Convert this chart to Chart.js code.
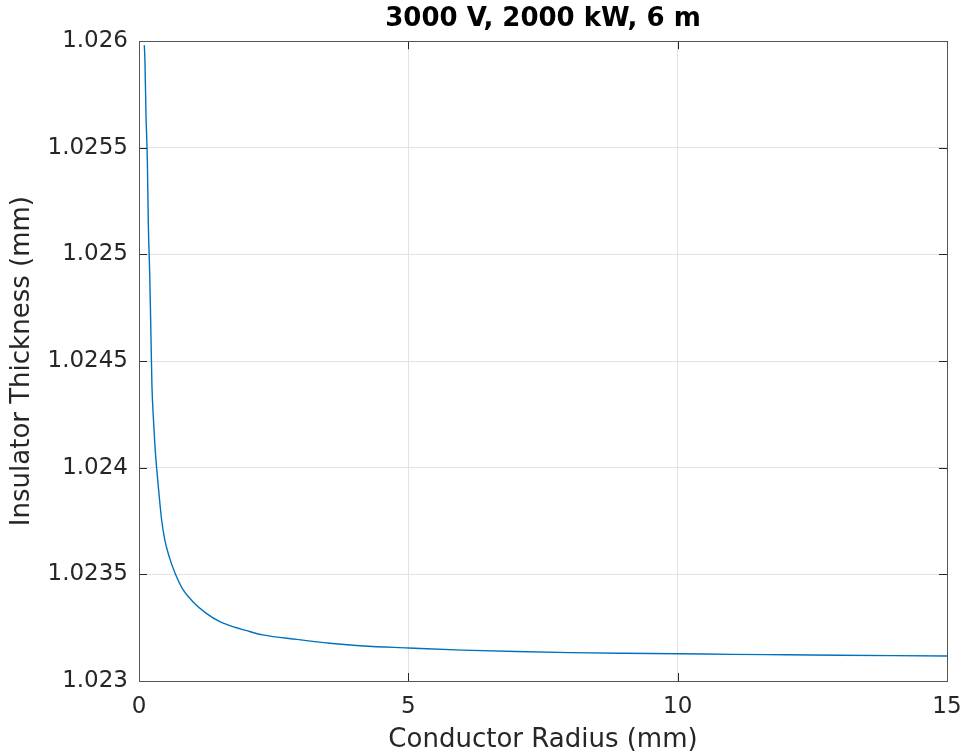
<!DOCTYPE html>
<html>
<head>
<meta charset="utf-8">
<script src="https://cdn.jsdelivr.net/npm/chart.js@4"></script>
<style>
html,body{margin:0;padding:0;background:#fff;}
#wrap{width:965px;height:751px;}
</style>
</head>
<body>
<div id="wrap"><canvas id="c" width="965" height="751"></canvas></div>
<script>
// ---- data ----
const radius = [0.099, 0.11, 0.13, 0.155, 0.173, 0.20, 0.22, 0.24, 0.27, 0.295, 0.327, 0.37, 0.42, 0.48, 0.56, 0.67, 0.82, 1.0, 1.25, 1.5, 1.69, 2.0, 2.30, 2.93, 3.54, 4.16, 5.0, 6.0, 7.0, 8.0, 9.0, 10.0, 11.0, 12.0, 13.0, 14.0, 15.0];
const thickness = [1.025981, 1.025911, 1.025653, 1.025442, 1.025147, 1.024895, 1.024645, 1.024387, 1.024218, 1.024106, 1.024000, 1.023880, 1.023755, 1.023661, 1.023583, 1.023505, 1.023427, 1.023372, 1.023317, 1.023278, 1.023260, 1.023236, 1.023216, 1.023195, 1.023177, 1.023164, 1.023155, 1.023145, 1.023138, 1.023133, 1.023130, 1.023128, 1.023125, 1.023123, 1.023121, 1.023119, 1.023117];
const xTicks = [0, 5, 10, 15];
const xTickLabels = ['0', '5', '10', '15'];
const yTicks = [1.023, 1.0235, 1.024, 1.0245, 1.025, 1.0255, 1.026];
const yTickLabels = ['1.023', '1.0235', '1.024', '1.0245', '1.025', '1.0255', '1.026'];
const titleText = '3000 V, 2000 kW, 6 m';
const xTitle = 'Conductor Radius (mm)';
const yTitle = 'Insulator Thickness (mm)';

const FONT = "'DejaVu Sans', sans-serif";
const TXT = '#262626';

const framePlugin = {
  id: 'frame',
  afterDatasetsDraw(chart) {
    const {ctx, chartArea: a, scales: {x, y}} = chart;
    ctx.save();
    ctx.strokeStyle = '#262626';
    ctx.lineWidth = 1;
    const L = 8;
    ctx.beginPath();
    xTicks.forEach(v => {
      const px = Math.round(x.getPixelForValue(v)) + 0.5;
      ctx.moveTo(px, a.bottom); ctx.lineTo(px, a.bottom - L);
      ctx.moveTo(px, a.top); ctx.lineTo(px, a.top + L);
    });
    yTicks.forEach(v => {
      const py = Math.round(y.getPixelForValue(v)) + 0.5;
      ctx.moveTo(a.left, py); ctx.lineTo(a.left + L, py);
      ctx.moveTo(a.right, py); ctx.lineTo(a.right - L, py);
    });
    ctx.stroke();
    ctx.strokeStyle = '#555';
    ctx.strokeRect(Math.round(a.left) + 0.5, Math.round(a.top) + 0.5, Math.round(a.right - a.left), Math.round(a.bottom - a.top));
    ctx.restore();
  }
};

new Chart(document.getElementById('c'), {
  type: 'line',
  data: {
    datasets: [{
      data: radius.map((r, i) => ({x: r, y: thickness[i]})),
      borderColor: '#0072BD',
      borderWidth: 1.4,
      pointRadius: 0,
      cubicInterpolationMode: 'monotone',
      fill: false
    }]
  },
  options: {
    responsive: false,
    animation: false,
    devicePixelRatio: 1,
    layout: {padding: {left: 0, right: 18, top: 0, bottom: 0}},
    plugins: {
      legend: {display: false},
      tooltip: {enabled: false},
      title: {
        display: true,
        text: titleText,
        fullSize: false,
        color: '#000',
        font: {family: FONT, size: 26, weight: 'bold'},
        padding: {top: 4, bottom: 6}
      }
    },
    scales: {
      x: {
        type: 'linear',
        min: 0, max: 15,
        afterBuildTicks(s) { s.ticks = xTicks.map(v => ({value: v})); },
        afterFit(s) { s.height = 70; s.paddingLeft = 0; s.paddingRight = 0; },
        ticks: {
          callback: (v, i) => xTickLabels[i],
          color: TXT,
          font: {family: FONT, size: 23},
          padding: 12,
          maxRotation: 0
        },
        grid: {color: '#e3e3e3', drawTicks: false, lineWidth: 1},
        border: {display: false},
        title: {display: true, text: xTitle, color: TXT, font: {family: FONT, size: 26}, padding: {top: 0, bottom: -5}}
      },
      y: {
        type: 'linear',
        min: 1.023, max: 1.026,
        afterBuildTicks(s) { s.ticks = yTicks.map(v => ({value: v})); },
        afterFit(s) { s.width = 139; s.paddingTop = 0; s.paddingBottom = 0; },
        ticks: {
          callback: (v, i) => yTickLabels[i],
          color: TXT,
          font: {family: FONT, size: 23},
          padding: 11
        },
        grid: {color: '#e3e3e3', drawTicks: false, lineWidth: 1},
        border: {display: false},
        title: {display: true, text: yTitle, color: TXT, font: {family: FONT, size: 26}, padding: {top: 7, bottom: 0}}
      }
    }
  },
  plugins: [framePlugin]
});
</script>
</body>
</html>
